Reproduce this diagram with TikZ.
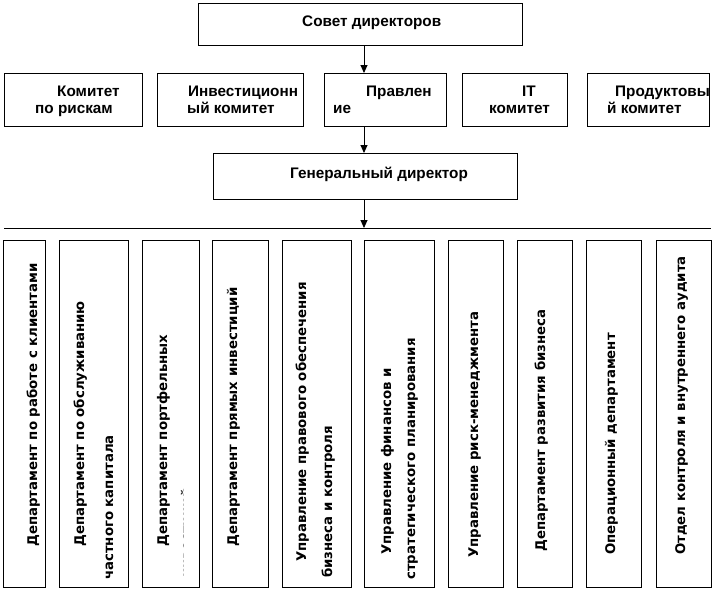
\documentclass[tikz,border=0pt]{standalone}
\usepackage{fontspec}
\setmainfont{Liberation Sans}
\newfontfamily\vfont{DejaVu Sans}
\usetikzlibrary{arrows.meta}
\tikzset{
  box/.style={draw=black, line width=0.9pt, inner sep=0pt, anchor=north west},
  htext/.style={anchor=base west, inner sep=0pt, font=\fontsize{15.3}{17}\selectfont\bfseries},
  vtext/.style={anchor=base west, inner sep=0pt, rotate=90, font=\vfont\fontsize{13.3}{15}\selectfont\bfseries},
  arr/.style={line width=0.9pt, -{Triangle[length=8pt,width=7pt]}},
  rule/.style={line width=0.9pt}
}
\newcommand{\bx}[5]{\node[box, minimum width=#4pt-#2pt, minimum height=#5pt-#3pt] (#1) at (#2,#3) {};}
\begin{document}
\begin{tikzpicture}[x=1pt,y=-1pt]
\useasboundingbox (0,0) rectangle (714,589);
% top
\bx{sovet}{198}{3}{522}{45}
\node[htext] (tsovet) at (302,27) {Совет директоров};
% committees
\bx{k1}{4}{73}{142}{126}
\bx{k2}{157}{73}{303}{126}
\bx{k3}{324}{73}{446}{126}
\bx{k4}{462}{73}{567}{126}
\bx{k5}{587}{73}{709}{126}
\node[htext] (k1a) at (57,96) {Комитет};
\node[htext] (k1b) at (35,113) {по рискам};
\node[htext] (k2a) at (188,96) {Инвестиционн};
\node[htext] (k2b) at (187,113) {ый комитет};
\node[htext] (k3a) at (366,96) {Правлен};
\node[htext] (k3b) at (333,113) {ие};
\node[htext] (k4a) at (522,96) {IT};
\node[htext] (k4b) at (489,113) {комитет};
\node[htext] (k5a) at (615,96) {Продуктовы};
\node[htext] (k5b) at (607,113) {й комитет};
% general director
\bx{gd}{213}{153}{517}{199}
\node[htext] (tgd) at (290,178) {Генеральный директор};
% rule
\coordinate (hl1) at (4,228);
\coordinate (hl2) at (711,228);
\draw[rule] (hl1) -- (hl2);
% arrows
\coordinate (ax) at (364,0);
\draw[arr] (ax |- sovet.south) -- (ax |- k3.north);
\draw[arr] (ax |- k3.south) -- (ax |- gd.north);
\draw[arr] (ax |- gd.south) -- (ax |- hl1);
% departments
\bx{d1}{3}{240}{45}{587}
\bx{d2}{59}{240}{128}{587}
\bx{d3}{142}{240}{199}{587}
\bx{d4}{212}{240}{268}{587}
\bx{d5}{282}{240}{351}{587}
\bx{d6}{364}{240}{434}{587}
\bx{d7}{448}{240}{503}{587}
\bx{d8}{517}{240}{572}{587}
\bx{d9}{586}{240}{641}{587}
\bx{d10}{656}{240}{711}{587}
\node[vtext] (v1) at (37,547) {Департамент по работе с клиентами};
\node[vtext] (v2a) at (84,547) {Департамент по обслуживанию};
\node[vtext] (v2b) at (113,580) {частного капитала};
\node[vtext] (v3a) at (167,547) {Департамент портфельных};
\begin{scope}
\clip (142,240) rectangle (183.5,587);
\node[vtext] (v3b) at (191,578) {инвестиций};
\end{scope}
\node[vtext] (v4) at (237,547) {Департамент прямых инвестиций};
\node[vtext] (v5a) at (306,562) {Управление правового обеспечения};
\node[vtext] (v5b) at (332,578) {бизнеса и контроля};
\node[vtext] (v6a) at (391,555) {Управление финансов и};
\node[vtext] (v6b) at (415,580) {стратегического планирования};
\node[vtext] (v7) at (478,558) {Управление риск-менеджмента};
\node[vtext] (v8) at (545,552) {Департамент развития бизнеса};
\node[vtext] (v9) at (615,555) {Операционный департамент};
\node[vtext] (v10) at (685,555) {Отдел контроля и внутреннего аудита};
\end{tikzpicture}
\end{document}
